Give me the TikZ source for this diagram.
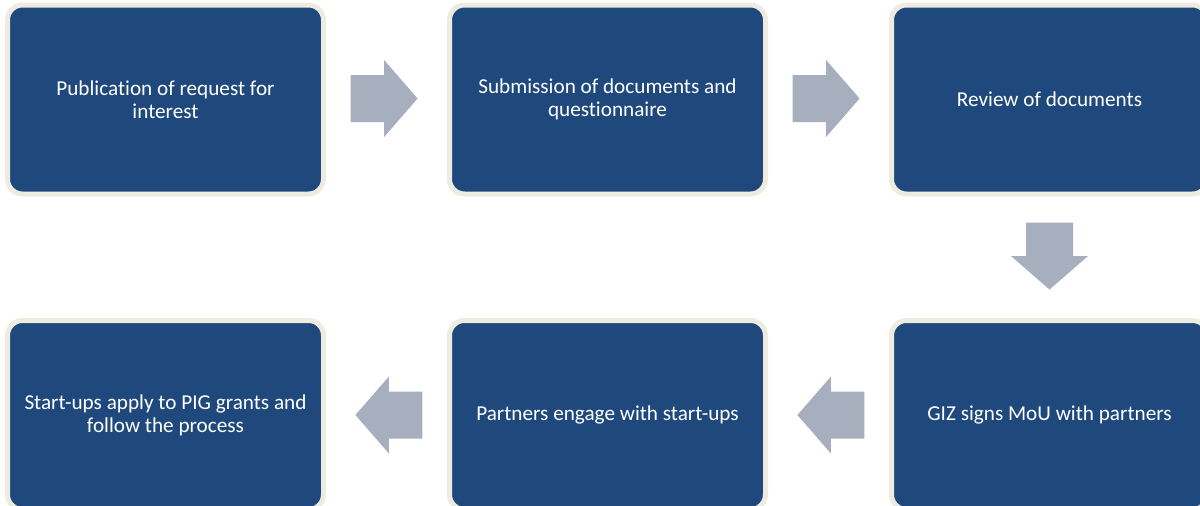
\documentclass[tikz,border=0pt]{standalone}
\usepackage{fontspec}
\setmainfont[Ligatures=NoCommon]{Carlito}
\definecolor{boxblue}{HTML}{1F497D}
\definecolor{boxrim}{HTML}{EEECE1}
\definecolor{arrowgray}{HTML}{A7AEBE}
\tikzset{
  stepbox/.style={draw=boxrim, fill=boxblue, line width=5pt, rounded corners=15pt,
    minimum width=316pt, minimum height=189pt, inner sep=0pt, text=white,
    align=center, font=\fontsize{21.2pt}{22.8pt}\selectfont},
  blockarrow/.pic={\fill[arrowgray] (-33.5,-23.5) -- (0,-23.5) -- (0,-38.5) -- (33.5,0) -- (0,38.5) -- (0,23.5) -- (-33.5,23.5) -- cycle;}
}
\begin{document}
\begin{tikzpicture}[x=1pt,y=-1pt]
\useasboundingbox (0,0) rectangle (1200,506);
\clip (0,0) rectangle (1200,506);
\node[stepbox] (b1) at (165.5,99.5) {Publication of request for\\interest};
\node[stepbox] (b2) at (607.5,99.5) {Submission of documents and\\questionnaire};
\node[stepbox] (b3) at (1049.5,99.5) {Review of documents};
\node[stepbox] (b4) at (1049.5,415) {GIZ signs MoU with partners};
\node[stepbox] (b5) at (607.5,415) {Partners engage with start-ups};
\node[stepbox] (b6) at (165.5,415) {Start-ups apply to PIG grants and\\follow the process};
\path (b1.east) -- (b2.west) coordinate[pos=0.48] (a12);
\path (b2.east) -- (b3.west) coordinate[pos=0.48] (a23);
\path (b3.south) -- (b4.north) coordinate[midway] (a34);
\path (b4.west) -- (b5.east) coordinate[pos=0.48] (a45);
\path (b5.west) -- (b6.east) coordinate[pos=0.48] (a56);
\pic at ([yshift=1pt]a12) {blockarrow};
\pic at ([yshift=1pt]a23) {blockarrow};
\pic[rotate=-90] at ([yshift=1.2pt]a34) {blockarrow};
\pic[rotate=180] at (a45) {blockarrow};
\pic[rotate=180] at (a56) {blockarrow};
\end{tikzpicture}
\end{document}
